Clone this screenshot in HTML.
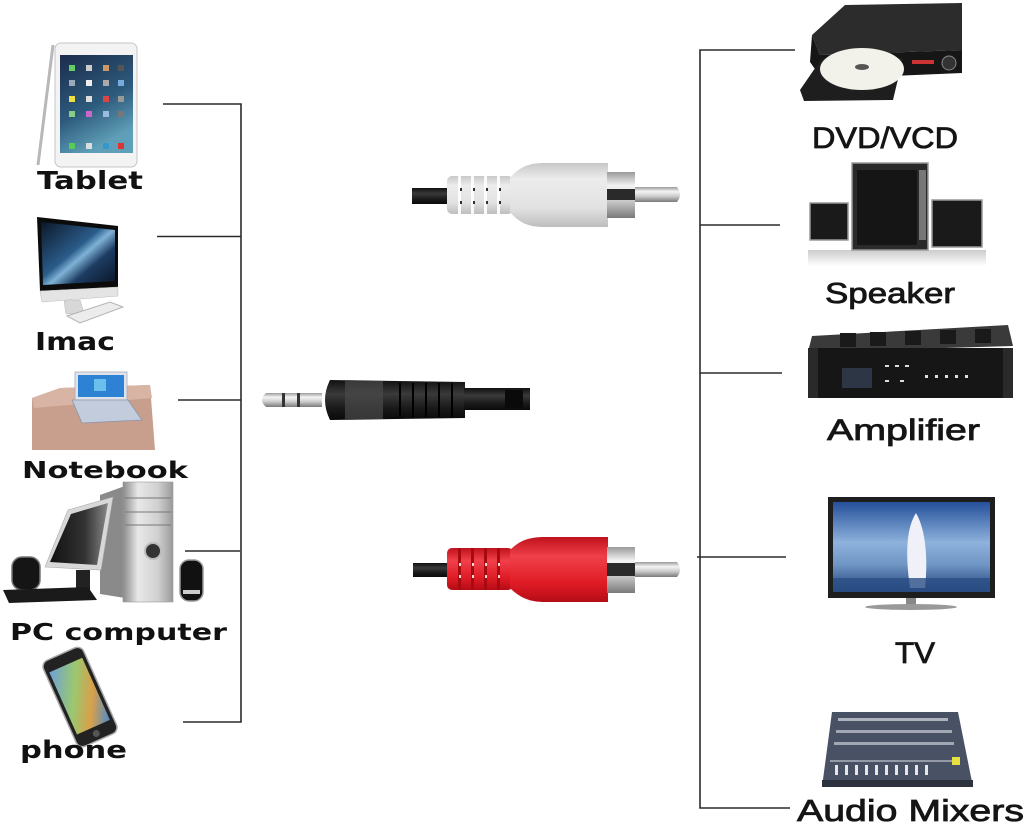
<!DOCTYPE html>
<html><head><meta charset="utf-8"><style>
html,body{margin:0;padding:0;background:#fff;}
svg{display:block;}
.ll{font-family:"DejaVu Sans","Liberation Sans",sans-serif;font-weight:bold;fill:#111;}
.rl{font-family:"Liberation Sans","DejaVu Sans",sans-serif;fill:#151515;stroke:#151515;stroke-width:0.8;}
</style></head><body>
<svg width="1024" height="830" viewBox="0 0 1024 830" xmlns="http://www.w3.org/2000/svg">
<defs>
<linearGradient id="tabScr" x1="0" y1="0" x2="0.4" y2="1"><stop offset="0" stop-color="#1c2c4c"/><stop offset="0.6" stop-color="#2d5a7c"/><stop offset="1" stop-color="#5fa0b8"/></linearGradient>
<linearGradient id="macScr" x1="0" y1="0" x2="1" y2="1"><stop offset="0" stop-color="#0c1628"/><stop offset="0.45" stop-color="#2a5c8a"/><stop offset="0.55" stop-color="#7fb2d6"/><stop offset="0.7" stop-color="#1d3c62"/><stop offset="1" stop-color="#0a1426"/></linearGradient>
<linearGradient id="silver" x1="0" y1="0" x2="1" y2="0"><stop offset="0" stop-color="#8a8a8a"/><stop offset="0.3" stop-color="#e8e8e8"/><stop offset="0.7" stop-color="#d0d0d0"/><stop offset="1" stop-color="#9a9a9a"/></linearGradient>
<linearGradient id="metalV" x1="0" y1="0" x2="0" y2="1"><stop offset="0" stop-color="#9a9a9a"/><stop offset="0.3" stop-color="#f4f4f4"/><stop offset="0.6" stop-color="#cfcfcf"/><stop offset="1" stop-color="#7a7a7a"/></linearGradient>
<linearGradient id="whiteV" x1="0" y1="0" x2="0" y2="1"><stop offset="0" stop-color="#c8c8c8"/><stop offset="0.25" stop-color="#ececec"/><stop offset="0.7" stop-color="#e2e2e2"/><stop offset="1" stop-color="#bdbdbd"/></linearGradient>
<linearGradient id="redV" x1="0" y1="0" x2="0" y2="1"><stop offset="0" stop-color="#c0121c"/><stop offset="0.3" stop-color="#f0404a"/><stop offset="0.7" stop-color="#e01c26"/><stop offset="1" stop-color="#b50c16"/></linearGradient>
<linearGradient id="blackV" x1="0" y1="0" x2="0" y2="1"><stop offset="0" stop-color="#111"/><stop offset="0.35" stop-color="#3a3a3a"/><stop offset="0.7" stop-color="#1a1a1a"/><stop offset="1" stop-color="#0a0a0a"/></linearGradient>
<linearGradient id="tvScr" x1="0" y1="0" x2="0" y2="1"><stop offset="0" stop-color="#25509a"/><stop offset="0.45" stop-color="#8eb2dc"/><stop offset="0.7" stop-color="#6f95c4"/><stop offset="1" stop-color="#1c3f74"/></linearGradient>
<linearGradient id="refl" x1="0" y1="0" x2="0" y2="1"><stop offset="0" stop-color="#999"/><stop offset="1" stop-color="#fff"/></linearGradient>
<linearGradient id="phoneScr" x1="0" y1="0" x2="1" y2="1"><stop offset="0" stop-color="#6fa0d8"/><stop offset="0.4" stop-color="#9ac870"/><stop offset="0.7" stop-color="#d8a04a"/><stop offset="1" stop-color="#4f8ac8"/></linearGradient>
<linearGradient id="pcScr" x1="0" y1="0" x2="1" y2="0"><stop offset="0" stop-color="#111"/><stop offset="0.6" stop-color="#333"/><stop offset="1" stop-color="#888"/></linearGradient>
</defs>

<!-- connector lines -->
<g stroke="#2b2b2b" stroke-width="1.6" fill="none">
<polyline points="163,104 241,104 241,722 183,722"/>
<line x1="157" y1="236.5" x2="241" y2="236.5"/>
<line x1="178" y1="400" x2="241" y2="400"/>
<line x1="185" y1="551" x2="240" y2="551"/>
<polyline points="795,50 700,50 700,808 790,808"/>
<line x1="700" y1="225" x2="780" y2="225"/>
<line x1="700" y1="373" x2="782" y2="373"/>
<line x1="697" y1="557" x2="786" y2="557"/>
</g>

<!-- Tablet -->
<line x1="53" y1="45" x2="38" y2="165" stroke="#b8b8b8" stroke-width="3"/>
<rect x="55" y="43" width="82" height="124" rx="6" fill="#f3f3f3" stroke="#c4c4c4"/>
<rect x="60" y="55" width="73" height="98" fill="url(#tabScr)"/>
<g>
<rect x="69" y="65" width="6" height="6" fill="#6c6"/><rect x="86" y="65" width="6" height="6" fill="#ccc"/><rect x="103" y="65" width="6" height="6" fill="#c96"/><rect x="118" y="65" width="6" height="6" fill="#555"/>
<rect x="69" y="80" width="6" height="6" fill="#9ab"/><rect x="86" y="80" width="6" height="6" fill="#eee"/><rect x="103" y="80" width="6" height="6" fill="#aaa"/><rect x="118" y="80" width="6" height="6" fill="#7ad"/>
<rect x="69" y="96" width="6" height="6" fill="#ed4"/><rect x="86" y="96" width="6" height="6" fill="#ddd"/><rect x="103" y="96" width="6" height="6" fill="#d44"/><rect x="118" y="96" width="6" height="6" fill="#999"/>
<rect x="69" y="111" width="6" height="6" fill="#8c8"/><rect x="86" y="111" width="6" height="6" fill="#c6c"/><rect x="103" y="111" width="6" height="6" fill="#9bd"/><rect x="118" y="111" width="6" height="6" fill="#777"/>
<rect x="69" y="143" width="6" height="6" fill="#5c5"/><rect x="86" y="143" width="6" height="6" fill="#ddd"/><rect x="103" y="143" width="6" height="6" fill="#39c"/><rect x="118" y="143" width="6" height="6" fill="#d33"/>
</g>
<text class="ll" x="37" y="189" font-size="25" textLength="106" lengthAdjust="spacingAndGlyphs">Tablet</text>

<!-- iMac -->
<polygon points="37,217 118,226 118,287 40,291" fill="#0b0b0b"/>
<polygon points="41,222 115,230 115,281 43,285" fill="url(#macScr)"/>
<polygon points="40,291 118,287 118,296 42,302" fill="#e4e4e4" stroke="#bbb" stroke-width="0.5"/>
<polygon points="64,301 80,300 84,313 66,314" fill="#d8d8d8" stroke="#bbb" stroke-width="0.5"/>
<polygon points="67,316 110,302 123,307 80,323" fill="#ececec" stroke="#b4b4b4"/>
<text class="ll" x="35" y="350" font-size="25" textLength="80" lengthAdjust="spacingAndGlyphs">Imac</text>

<!-- Notebook -->
<polygon points="32,398 60,388 150,385 155,450 32,450" fill="#c89e8c"/>
<polygon points="32,398 60,388 150,385 152,398 34,408" fill="#d8b4a4"/>
<rect x="75" y="372" width="52" height="28" fill="#dfe4ea" stroke="#aab" stroke-width="0.8"/>
<rect x="78" y="375" width="46" height="22" fill="#2e82d4"/>
<rect x="94" y="379" width="12" height="12" fill="#7bd0f0" opacity="0.8"/>
<polygon points="72,400 128,400 142,420 82,423" fill="#c2ccdc" stroke="#8a96ac" stroke-width="0.8"/>
<text class="ll" x="22" y="478" font-size="23" textLength="166" lengthAdjust="spacingAndGlyphs">Notebook</text>

<!-- PC computer -->
<polygon points="100,495 125,486 125,598 100,594" fill="#8a8a8a"/>
<polygon points="45,567 68,510 113,497 101,570" fill="#d8d8d8" stroke="#aaa" stroke-width="0.6"/>
<polygon points="50,562 71,514 108,503 97,565" fill="url(#pcScr)"/>
<rect x="76" y="570" width="14" height="22" fill="#222"/>
<rect x="123" y="482" width="50" height="120" fill="url(#silver)" stroke="#999" stroke-width="0.6"/>
<line x1="125" y1="498" x2="171" y2="498" stroke="#777"/>
<line x1="125" y1="512" x2="171" y2="512" stroke="#777"/>
<line x1="125" y1="525" x2="171" y2="525" stroke="#777"/>
<circle cx="153" cy="551" r="8" fill="#333" stroke="#bbb" stroke-width="2"/>
<rect x="12" y="557" width="28" height="33" rx="10" fill="#151515" stroke="#777" stroke-width="1.5"/>
<polygon points="3,590 88,587 97,600 9,603" fill="#1a1a1a"/>
<rect x="180" y="560" width="23" height="41" rx="9" fill="#111" stroke="#999" stroke-width="1.5"/>
<rect x="183" y="590" width="17" height="4" fill="#ccc"/>
<text class="ll" x="10" y="640" font-size="23" textLength="217" lengthAdjust="spacingAndGlyphs">PC computer</text>

<!-- Phone -->
<g transform="rotate(-24 80 697)">
<rect x="58" y="650" width="44" height="94" rx="7" fill="#222" stroke="#aaa" stroke-width="1.5"/>
<rect x="62" y="662" width="36" height="68" fill="url(#phoneScr)"/>
<circle cx="80" cy="737" r="3.5" fill="#555"/>
</g>
<text class="ll" x="20" y="758" font-size="24" textLength="107" lengthAdjust="spacingAndGlyphs">phone</text>

<!-- White RCA -->
<rect x="412" y="188" width="40" height="16" fill="url(#blackV)"/>
<rect x="447" y="176" width="66" height="38" rx="5" fill="url(#whiteV)"/>
<g fill="#fff" opacity="0.9">
<rect x="458" y="176" width="3" height="38"/><rect x="471" y="176" width="3" height="38"/><rect x="484" y="176" width="3" height="38"/><rect x="497" y="176" width="3" height="38"/>
</g>
<g fill="#333">
<rect x="460" y="188" width="2" height="3"/><rect x="473" y="188" width="2" height="3"/><rect x="486" y="188" width="2" height="3"/><rect x="499" y="188" width="2" height="3"/>
<rect x="460" y="201" width="2" height="3"/><rect x="473" y="201" width="2" height="3"/><rect x="486" y="201" width="2" height="3"/><rect x="499" y="201" width="2" height="3"/>
</g>
<path d="M510,178 C520,166 530,163 545,163 L608,163 L608,227 L545,227 C530,227 520,224 510,212 Z" fill="url(#whiteV)"/>
<rect x="607" y="172" width="28" height="46" fill="url(#metalV)"/>
<rect x="607" y="189" width="28" height="11" fill="#2a2a2a"/>
<path d="M635,187 L677,187 Q683,194.5 677,202 L635,202 Z" fill="url(#metalV)"/>

<!-- 3.5mm Jack -->
<path d="M266,393 L322,393 L322,407 L266,407 Q258,400 266,393 Z" fill="url(#metalV)"/>
<rect x="282" y="393" width="3" height="14" fill="#333"/>
<rect x="297" y="393" width="3" height="14" fill="#333"/>
<path d="M330,380 L465,382 L465,418 L330,420 Q320,400 330,380 Z" fill="url(#blackV)"/>
<rect x="345" y="381" width="38" height="38" fill="#4a4a4a" opacity="0.7"/>
<g stroke="#000" stroke-width="2"><line x1="400" y1="383" x2="400" y2="417"/><line x1="413" y1="383" x2="413" y2="417"/><line x1="426" y1="383" x2="426" y2="417"/><line x1="439" y1="383" x2="439" y2="417"/><line x1="452" y1="383" x2="452" y2="417"/></g>
<rect x="464" y="388" width="66" height="22" fill="url(#blackV)"/>
<rect x="505" y="390" width="18" height="18" fill="#0a0a0a"/>

<!-- Red RCA -->
<rect x="413" y="563" width="40" height="14" fill="url(#blackV)"/>
<rect x="447" y="548" width="66" height="42" rx="5" fill="url(#redV)"/>
<g fill="#a80a12">
<rect x="458" y="548" width="3" height="42"/><rect x="471" y="548" width="3" height="42"/><rect x="484" y="548" width="3" height="42"/><rect x="497" y="548" width="3" height="42"/>
</g>
<g fill="#fff" opacity="0.85">
<rect x="459" y="563" width="2" height="3"/><rect x="472" y="563" width="2" height="3"/><rect x="485" y="563" width="2" height="3"/><rect x="498" y="563" width="2" height="3"/>
<rect x="459" y="575" width="2" height="3"/><rect x="472" y="575" width="2" height="3"/><rect x="485" y="575" width="2" height="3"/><rect x="498" y="575" width="2" height="3"/>
</g>
<path d="M510,550 C520,540 530,537 545,537 L608,537 L608,602 L545,602 C530,602 520,598 510,588 Z" fill="url(#redV)"/>
<rect x="607" y="547" width="28" height="46" fill="url(#metalV)"/>
<rect x="607" y="563" width="28" height="13" fill="#2a2a2a"/>
<path d="M635,562 L677,562 Q683,569.5 677,577 L635,577 Z" fill="url(#metalV)"/>

<!-- DVD -->
<polygon points="812,35 845,5 962,3 962,50 820,55" fill="#2c2c2c"/>
<polygon points="812,35 820,55 962,50 962,73 822,79 810,62" fill="#161616"/>
<polygon points="800,90 822,58 903,58 893,100 804,101" fill="#1e1e1e"/>
<ellipse cx="862" cy="69" rx="42" ry="21" fill="#f2f1ea"/>
<ellipse cx="862" cy="67" rx="7" ry="3" fill="#555"/>
<rect x="912" y="60" width="22" height="4" fill="#c33"/>
<circle cx="949" cy="63" r="7" fill="#333" stroke="#888"/>
<text class="rl" x="812" y="148" font-size="30" textLength="146" lengthAdjust="spacingAndGlyphs">DVD/VCD</text>

<!-- Speaker -->
<rect x="808" y="250" width="178" height="16" fill="url(#refl)" opacity="0.5"/>
<rect x="852" y="163" width="76" height="87" fill="#2a2a2a" stroke="#999" stroke-width="1.5"/>
<rect x="857" y="170" width="60" height="75" fill="#151515"/>
<rect x="919" y="170" width="7" height="70" fill="#777"/>
<rect x="810" y="203" width="38" height="37" fill="#1a1a1a" stroke="#999" stroke-width="1.5"/>
<rect x="932" y="200" width="50" height="47" fill="#1a1a1a" stroke="#999" stroke-width="1.5"/>
<text class="rl" x="825" y="303" font-size="29" textLength="130" lengthAdjust="spacingAndGlyphs">Speaker</text>

<!-- Amplifier -->
<polygon points="812,336 1008,325 1013,346 808,352" fill="#3a3a3a"/>
<g fill="#1a1a1a"><rect x="840" y="333" width="16" height="14"/><rect x="870" y="332" width="16" height="14"/><rect x="905" y="331" width="16" height="14"/><rect x="940" y="330" width="16" height="14"/><rect x="975" y="329" width="16" height="14"/></g>
<rect x="808" y="348" width="205" height="50" fill="#161616"/>
<rect x="808" y="348" width="10" height="50" fill="#2a2a2a"/>
<rect x="1003" y="348" width="10" height="50" fill="#2a2a2a"/>
<rect x="842" y="368" width="30" height="20" fill="#2c3644"/>
<g fill="#ddd"><rect x="885" y="365" width="4" height="2"/><rect x="895" y="365" width="4" height="2"/><rect x="905" y="365" width="4" height="2"/><rect x="925" y="375" width="3" height="3"/><rect x="935" y="375" width="3" height="3"/><rect x="945" y="375" width="3" height="3"/><rect x="955" y="375" width="3" height="3"/><rect x="965" y="375" width="3" height="3"/><rect x="885" y="380" width="4" height="2"/><rect x="900" y="380" width="4" height="2"/></g>
<text class="rl" x="827" y="440" font-size="30" textLength="153" lengthAdjust="spacingAndGlyphs">Amplifier</text>

<!-- TV -->
<rect x="828" y="497" width="167" height="101" fill="#1e1e1e"/>
<rect x="833" y="502" width="157" height="90" fill="url(#tvScr)"/>
<path d="M910,588 C906,560 905,530 916,513 C926,530 928,560 925,588 Z" fill="#f0f0f8"/>
<rect x="833" y="578" width="157" height="14" fill="#2a4f86" opacity="0.8"/>
<rect x="906" y="598" width="10" height="8" fill="#888"/>
<ellipse cx="911" cy="607" rx="46" ry="3" fill="#999"/>
<text class="rl" x="895" y="663" font-size="30" textLength="40" lengthAdjust="spacingAndGlyphs">TV</text>

<!-- Mixer -->
<polygon points="832,712 958,712 973,787 822,787" fill="#485264"/>
<polygon points="822,780 973,780 973,787 822,787" fill="#2c323e"/>
<g fill="#c8ccd4">
<rect x="838" y="718" width="110" height="3" opacity="0.8"/>
<rect x="836" y="730" width="116" height="3" opacity="0.7"/>
<rect x="834" y="742" width="120" height="3" opacity="0.7"/>
<rect x="830" y="760" width="130" height="2" opacity="0.6"/>
</g>
<g fill="#e6e6e6"><rect x="835" y="765" width="3" height="10"/><rect x="845" y="765" width="3" height="10"/><rect x="855" y="765" width="3" height="10"/><rect x="865" y="765" width="3" height="10"/><rect x="875" y="765" width="3" height="10"/><rect x="885" y="765" width="3" height="10"/><rect x="895" y="765" width="3" height="10"/><rect x="905" y="765" width="3" height="10"/><rect x="915" y="765" width="3" height="10"/><rect x="925" y="765" width="3" height="10"/></g>
<rect x="952" y="757" width="8" height="8" fill="#e8e040"/>
<text class="rl" x="797" y="821" font-size="31" textLength="227" lengthAdjust="spacingAndGlyphs">Audio  Mixers</text>
</svg>
</body></html>
